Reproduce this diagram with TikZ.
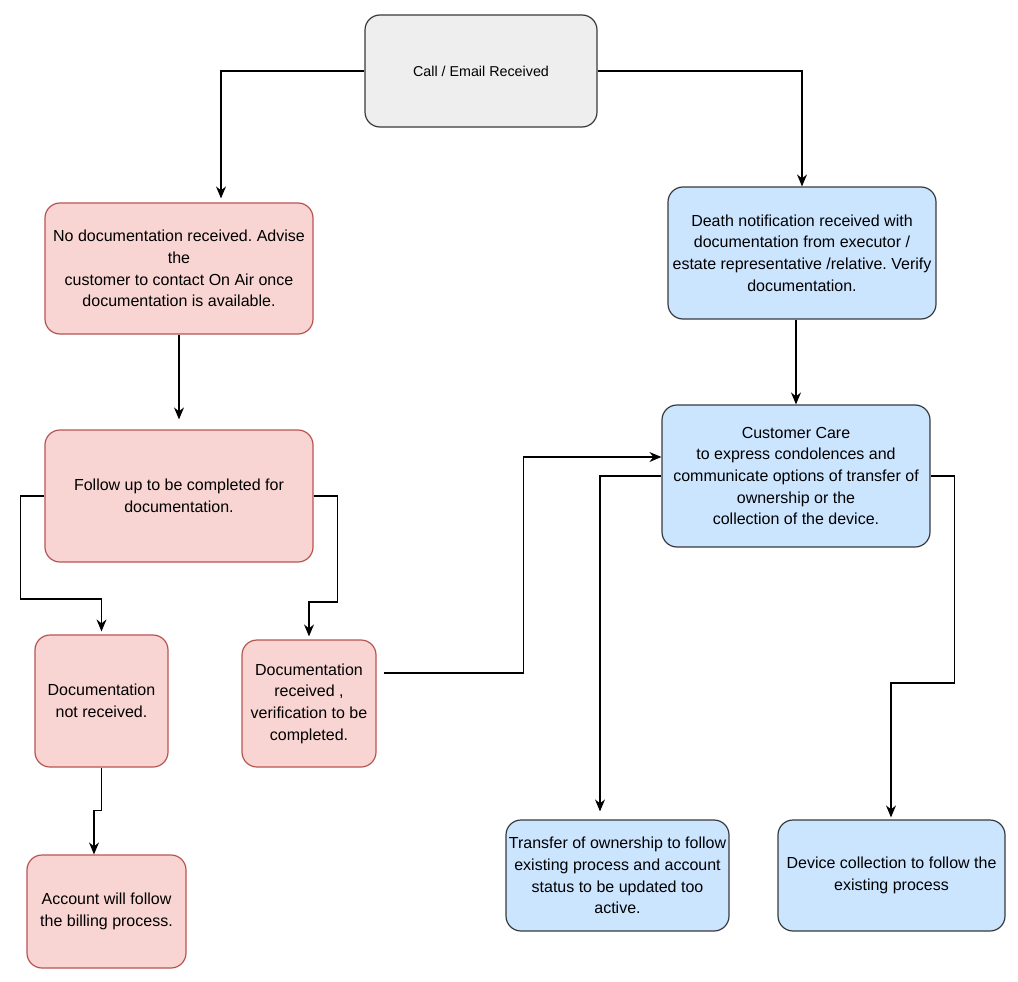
\documentclass[tikz,border=0pt]{standalone}
\usepackage{fontspec}
\setmainfont{Liberation Sans}
\usepackage{tikz}
\usetikzlibrary{arrows.meta}

\definecolor{grayfill}{HTML}{EEEEEE}
\definecolor{redfill}{HTML}{F8D5D2}
\definecolor{reddraw}{HTML}{B85450}
\definecolor{bluefill}{HTML}{CCE5FF}
\definecolor{darkdraw}{HTML}{36393D}

\begin{document}
\frenchspacing
\begin{tikzpicture}[x=1pt,y=-1pt,-{Stealth[length=12pt,width=10pt,inset=4pt]},line width=1.1pt,
                    font=\fontsize{16}{21.7}\selectfont]
  \tikzstyle{box}=[rectangle,rounded corners=15pt,align=center,inner sep=2pt,line width=1.2pt]
  \tikzstyle{greybox}=[box,fill=grayfill,draw=darkdraw]
  \tikzstyle{redbox}=[box,fill=redfill,draw=reddraw]
  \tikzstyle{bluebox}=[box,fill=bluefill,draw=darkdraw]

  \useasboundingbox (0,0) rectangle (1018,982);

  \node[greybox,minimum width=232pt,minimum height=112pt,font=\fontsize{14.3}{18}\selectfont]
        (call)     at (481,71)     {Call / Email Received};
  \node[redbox,minimum width=268pt,minimum height=131pt]
        (nodoc)    at (179,268.5)  {No documentation received. Advise\\the\\customer to contact On Air once\\documentation is available.};
  \node[redbox,minimum width=268pt,minimum height=132pt]
        (follow)   at (179,496)    {Follow up to be completed for\\documentation.};
  \node[redbox,minimum width=133pt,minimum height=132pt]
        (docnot)   at (101.5,701)  {Documentation\\not received.};
  \node[redbox,minimum width=134pt,minimum height=127pt]
        (docrecv)  at (309,703.5)  {Documentation\\received ,\\verification to be\\completed.};
  \node[redbox,minimum width=159pt,minimum height=113pt]
        (account)  at (106.5,911.5) {Account will follow\\the billing process.};
  \node[bluebox,minimum width=268pt,minimum height=132pt]
        (death)    at (802,253)    {Death notification received with\\documentation from executor /\\estate representative /relative. Verify\\documentation.};
  \node[bluebox,minimum width=268pt,minimum height=142pt]
        (care)     at (796,476)    {Customer Care\\to express condolences and\\communicate options of transfer of\\ownership or the\\collection of the device.};
  \node[bluebox,minimum width=223pt,minimum height=111pt]
        (transfer) at (617.5,875.5) {Transfer of ownership to follow\\existing process and account\\status to be updated too\\active.};
  \node[bluebox,minimum width=227pt,minimum height=111pt]
        (device)   at (891.5,875.5) {Device collection to follow the\\existing process};

  \draw (call.west) -| ([xshift=42pt,yshift=4pt]nodoc.north);
  \draw (call.east) -| (death.north);
  \draw (nodoc.south) -- ([yshift=10pt]follow.north);
  \draw (care.north |- death.south) -- (care.north);
  \draw (follow.west) -- ++(-24,0) -- ++(0,103) -| ([yshift=3pt]docnot.north);
  \draw (follow.east) -- ++(24,0) -- ++(0,106) -| ([yshift=3pt]docrecv.north);
  \draw (docnot.south) -- ++(0,43) -| ([xshift=-12.5pt]account.north);
  \draw ([xshift=7pt,yshift=30.5pt]docrecv.east) -- ++(140,0) |- ([yshift=19pt]care.west);
  \draw (care.west) -| ([xshift=-17.5pt,yshift=8pt]transfer.north);
  \draw (care.east) -- ++(24,0) -- ++(0,207) -| ([xshift=-0.5pt,yshift=2pt]device.north);
\end{tikzpicture}
\end{document}
